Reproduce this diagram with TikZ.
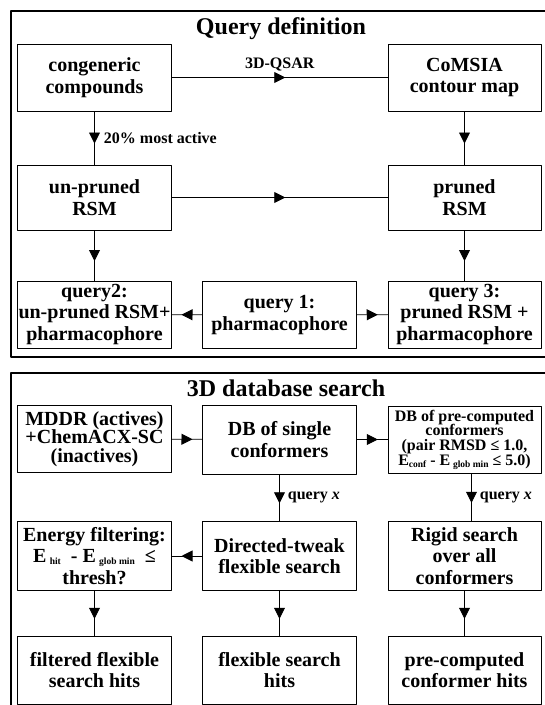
\documentclass[tikz,border=0pt]{standalone}
\usepackage{fontspec}
\setmainfont{Liberation Serif}
\usetikzlibrary{arrows.meta,decorations.markings}
\tikzstyle{every node}=[font=\bfseries]
\tikzstyle{every path}=[line width=0.9pt,line cap=round,line join=round]
\tikzstyle{box}=[draw,inner sep=0pt,align=center,minimum height=67pt,font=\bfseries\fontsize{20}{21.5}\selectfont]
\tikzstyle{smallbox}=[box,font=\bfseries\fontsize{16}{14.8}\selectfont]
\tikzstyle{panel}=[line width=1.4pt]
\tikzstyle{title}=[anchor=base,inner sep=0pt,font=\bfseries\fontsize{24}{26}\selectfont]
\tikzstyle{lbl}=[inner sep=0pt,font=\bfseries\fontsize{16}{18}\selectfont]
\tikzstyle{midarrow}=[postaction={decorate},decoration={markings,mark=at position 0.5 with {\arrow[xshift=5.5pt]{Triangle[length=11pt,width=11pt]}}}]

\begin{document}
\begin{tikzpicture}[x=1pt,y=-1pt]
\useasboundingbox (0,0) rectangle (545,705);
	\newcommand\colL{94.5} %% centre of left column
	\newcommand\colM{279.5} %% centre of middle column
	\newcommand\colR{464.5} %% centre of right column
	\newcommand\lowtxt[1]{\raisebox{-1.5pt}{\fontsize{9.5}{9.5}\selectfont #1}} %% small index of E
	%Query definition
	\draw[panel] (545,11) -- (11,11) -- (11,357) -- (545,357);
	\node[title] (qtitle) at (281,34) {Query definition};
	\node[box,minimum width=154pt] (cong) at (\colL,77.5) {congeneric\\compounds};
	\node[box,minimum width=153pt] (comsia) at (\colR,77.5) {CoMSIA\\contour map};
	\node[box,minimum width=154pt,minimum height=65pt] (unpruned) at (\colL,197.5) {un-pruned\\RSM};
	\node[box,minimum width=153pt,minimum height=65pt] (pruned) at (\colR,197.5) {pruned\\RSM};
	\node[box,minimum width=154pt] (query2) at (\colL,314.5) {query2:\\un-pruned RSM+\\pharmacophore};
	\node[box,minimum width=154pt] (query1) at (\colM,315) {query 1:\\pharmacophore};
	\node[box,minimum width=153pt] (query3) at (\colR,314.5) {query 3:\\pruned RSM +\\pharmacophore};
	\draw[midarrow] (cong) -- node[lbl,above=6pt] {3D-QSAR} (comsia);
	\draw[midarrow] (cong) -- node[lbl,anchor=west,xshift=9pt] {20\% most active} (unpruned);
	\draw[midarrow] (comsia) -- (pruned);
	\draw[midarrow] (unpruned) -- (pruned);
	\draw[midarrow] (unpruned) -- (query2);
	\draw[midarrow] (pruned) -- (query3);
	\draw[midarrow] (query1) -- (query2);
	\draw[midarrow] (query1) -- (query3);
	%3D database search
	\draw[panel] (545,373) -- (11,373) -- (11,705);
	\node[title] (dtitle) at (286,396) {3D database search};
	\node[box,minimum width=154pt,font=\bfseries\fontsize{20}{18.5}\selectfont] (mddr) at (\colL,439) {MDDR (actives)\\+ChemACX-SC\\(inactives)};
	\node[box,minimum width=154pt,minimum height=69pt] (dbsingle) at (\colM,439.5) {DB of single\\conformers};
	\node[smallbox,minimum width=153pt,minimum height=67pt] (dbpre) at (\colR,439.5) {DB of pre-computed\\conformers\\(pair RMSD ≤ 1.0,\\E\lowtxt{conf} - E\,\lowtxt{glob min} ≤ 5.0)};
	\node[box,minimum width=154pt,minimum height=69pt] (energy) at (\colL,556) {Energy filtering:\\E\,\lowtxt{hit}\ \ - E\,\lowtxt{glob min}\ \ ≤\\thresh?};
	\node[box,minimum width=154pt,minimum height=69pt] (tweak) at (\colM,556) {Directed-tweak\\flexible search};
	\node[box,minimum width=153pt,minimum height=69pt] (rigid) at (\colR,556) {Rigid search\\over all\\conformers};
	\node[box,minimum width=154pt,minimum height=68pt] (filtered) at (\colL,670) {filtered flexible\\search hits};
	\node[box,minimum width=154pt,minimum height=68pt] (flexhits) at (\colM,670) {flexible search\\hits};
	\node[box,minimum width=153pt,minimum height=68pt] (prehits) at (\colR,670) {pre-computed\\conformer hits};
	\draw[midarrow] (mddr) -- (dbsingle);
	\draw[midarrow] (dbsingle) -- (dbpre);
	\draw[midarrow] (dbsingle) -- node[lbl,anchor=west,xshift=8pt] {query \textit{x}} (tweak);
	\draw[midarrow] ([xshift=7pt]dbpre.south) -- node[lbl,anchor=west,xshift=8pt] {query \textit{x}} ([xshift=7pt]rigid.north);
	\draw[midarrow] (tweak) -- (energy);
	\draw[midarrow] (energy) -- (filtered);
	\draw[midarrow] (tweak) -- (flexhits);
	\draw[midarrow] (rigid) -- (prehits);
\end{tikzpicture}
\end{document}
